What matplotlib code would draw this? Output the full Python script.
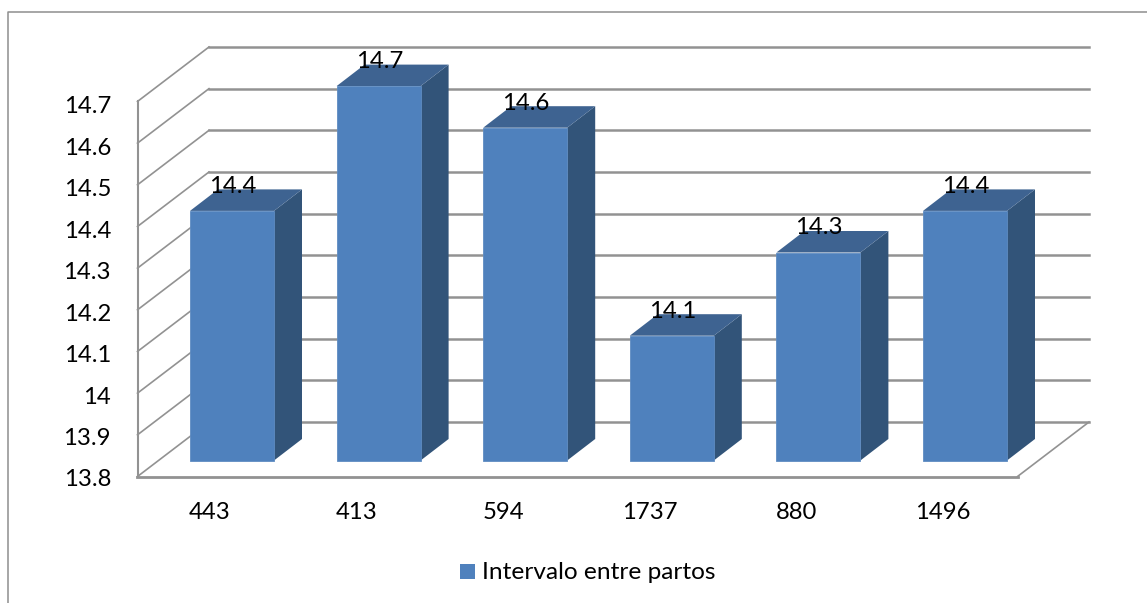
import matplotlib
matplotlib.use("Agg")
import matplotlib.pyplot as plt
from matplotlib.patches import Polygon, Rectangle

categories = ["443", "413", "594", "1737", "880", "1496"]
values = [14.4, 14.7, 14.6, 14.1, 14.3, 14.4]
value_labels = ["14.4", "14.7", "14.6", "14.1", "14.3", "14.4"]
axis_levels = [13.8, 13.9, 14.0, 14.1, 14.2, 14.3, 14.4, 14.5, 14.6, 14.7]
axis_labels = ["13.8", "13.9", "14", "14.1", "14.2", "14.3", "14.4", "14.5", "14.6", "14.7"]
series_name = "Intervalo entre partos"

W, H = 1147, 603
plt.rcParams["font.family"] = ["Lato", "DejaVu Sans"]
TEXT_SIZE = 17.2

FRONT = "#4F81BD"
SIDE = "#325479"
TOP = "#3E6391"
EDGE = "#5F8CC2"
GRID = "#929292"

fig = plt.figure(figsize=(W / 100, H / 100), dpi=100, facecolor="white")
ax = fig.add_axes([0, 0, 1, 1])
ax.set_xlim(0, W)
ax.set_ylim(H, 0)
ax.axis("off")

# Oblique projection of the chart box
WALL_X0, WALL_X1 = 137.5, 1017.5
WALL_Y0 = 476.5
WALL_STEP = 416.7
DX, DY = 71.5, -54.5
BAR_Y0 = 460.5
BAR_STEP = 416.0
BAR_W = 84
BAR_X0 = 190
BAR_PITCH = 146.6
BAR_DX, BAR_DY = 28, -21.5


def wall_y(v):
    return WALL_Y0 - (v - axis_levels[0]) * WALL_STEP


def bar_y(v):
    return BAR_Y0 - (v - axis_levels[0]) * BAR_STEP


# Outer chart frame, open on the right and running off the bottom edge
ax.plot([7.5, 7.5, W], [H, 11.5, 11.5], color="#8E8E8E", lw=1.1, zorder=1)

# Gridlines: thin slanted runs on the side wall, heavier runs along the back wall
for lev in axis_levels:
    y = wall_y(lev)
    ax.plot([WALL_X0, WALL_X0 + DX], [y, y + DY], color=GRID, lw=1.2, zorder=2)
    ax.plot([WALL_X0 + DX, WALL_X1 + DX], [y + DY, y + DY], color=GRID, lw=1.8, zorder=2)
ax.plot([WALL_X0, WALL_X0], [wall_y(axis_levels[0]), wall_y(axis_levels[-1])],
        color=GRID, lw=1.5, zorder=2)
# Front and right edges of the floor
ax.plot([WALL_X0 - 1, WALL_X1], [WALL_Y0, WALL_Y0], color=GRID, lw=2, zorder=2)
ax.plot([WALL_X1, WALL_X1 + DX], [WALL_Y0, WALL_Y0 + DY], color=GRID, lw=1.2, zorder=2)

# Bars with front, side and top faces
for i, v in enumerate(values):
    x0 = BAR_X0 + i * BAR_PITCH
    x1 = x0 + BAR_W
    yb, yt = bar_y(axis_levels[0]), bar_y(v)
    ax.add_patch(Polygon([(x1, yb), (x1 + BAR_DX, yb + BAR_DY), (x1 + BAR_DX, yt + BAR_DY), (x1, yt)],
                         closed=True, fc=SIDE, ec="none", zorder=3))
    ax.add_patch(Polygon([(x0, yt), (x1, yt), (x1 + BAR_DX, yt + BAR_DY), (x0 + BAR_DX, yt + BAR_DY)],
                         closed=True, fc=TOP, ec="none", zorder=3))
    ax.add_patch(Rectangle((x0, yt), BAR_W, yb - yt, fc=FRONT, ec=EDGE, lw=0.6, zorder=4))
    ax.text(x0 + 19, yt - 18, value_labels[i], ha="left", va="baseline", fontsize=TEXT_SIZE,
            color="black", zorder=5)
    ax.text(x0 + 20, 519, categories[i], ha="center", va="baseline",
            fontsize=TEXT_SIZE, color="black", zorder=5)

# Value axis labels
for lev, lab in zip(axis_levels, axis_labels):
    ax.text(111, 486.5 - (lev - axis_levels[0]) * 415, lab, ha="right", va="baseline",
            fontsize=TEXT_SIZE, color="black")

# Legend
ax.add_patch(Rectangle((460, 564), 15, 15, fc=FRONT, ec="none"))
ax.text(481.5, 579, series_name, ha="left", va="baseline", fontsize=17.6, color="black")

fig.savefig("out.png", dpi=100, facecolor="white")
